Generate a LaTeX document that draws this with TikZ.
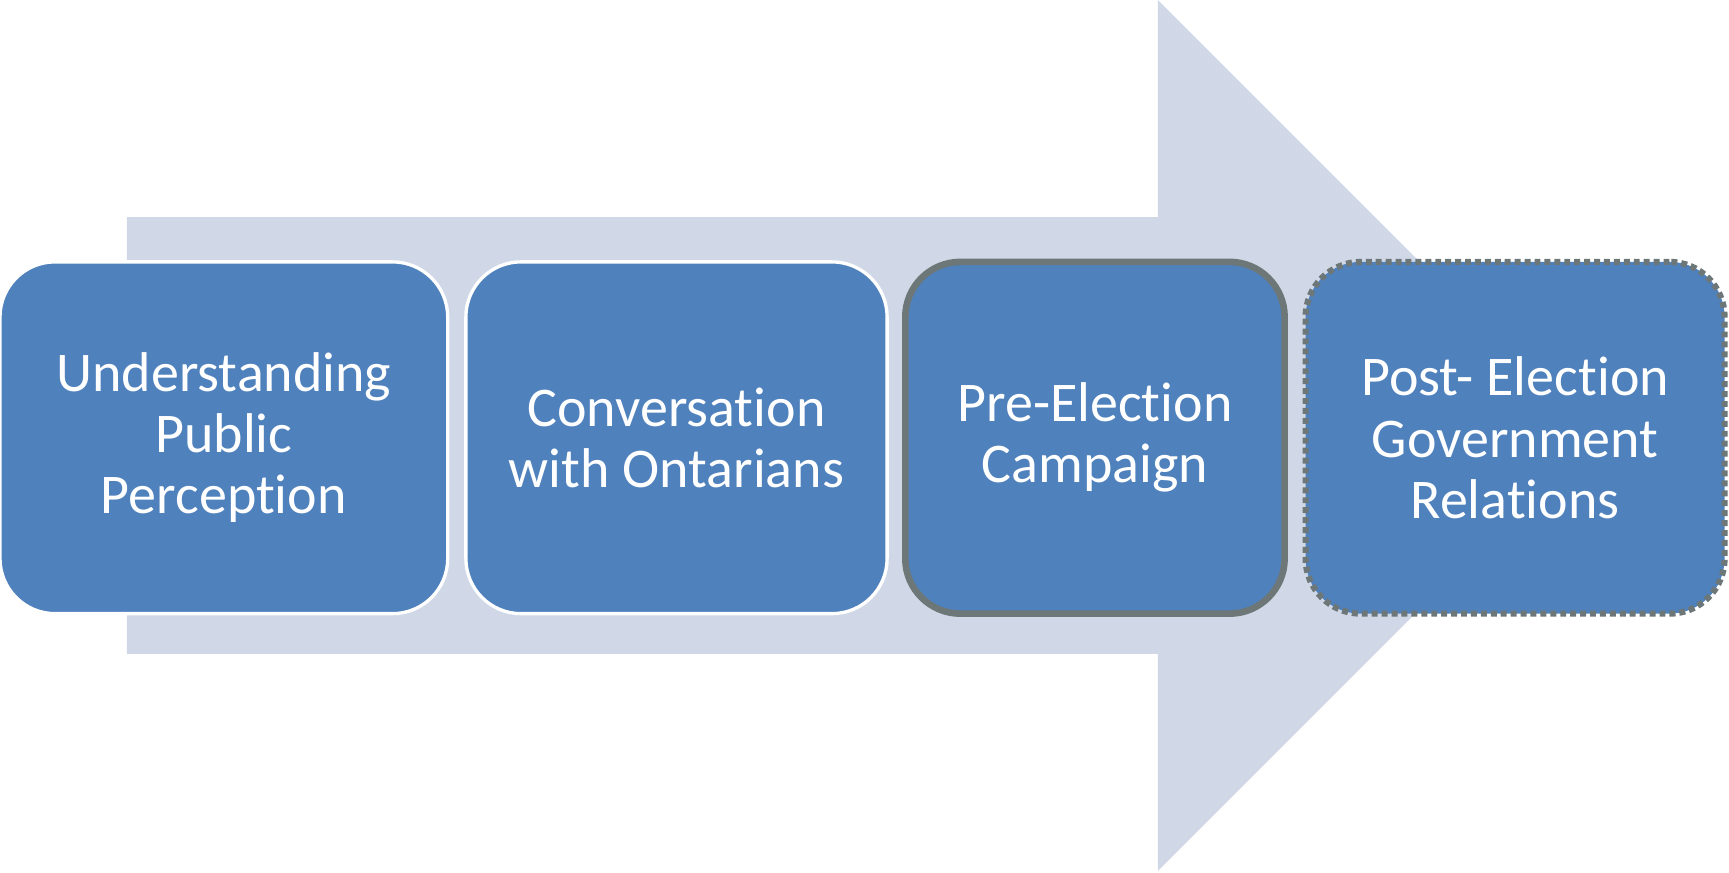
\documentclass[tikz,border=0pt]{standalone}
\usepackage{fontspec}
\setmainfont{Carlito}[RawFeature={-liga;-clig;-dlig}]
\definecolor{stepblue}{HTML}{4F81BD}
\definecolor{arrowbg}{HTML}{D0D8E8}
\definecolor{rimgray}{HTML}{6D7777}
\tikzset{
  phase/.style={fill=stepblue, rounded corners=25pt, minimum height=159.5pt,
    align=center, text=white, inner sep=0pt,
    font=\fontsize{25.4pt}{27.7pt}\selectfont},
  whiterim/.style={draw=white, line width=1.5pt},
  grayrim/.style={draw=rimgray, line width=3pt},
  dotrim/.style={draw=rimgray, line width=2.8pt, dash pattern=on 2.7pt off 1.8pt}
}
\begin{document}
\begin{tikzpicture}[x=0.5pt,y=-0.5pt]
\useasboundingbox (0,0) rectangle (1568,791);
\fill [arrowbg] (115,197) -- (1050,197) -- (1050,0) -- (1445,395)
    -- (1050,790) -- (1050,593) -- (115,593) -- cycle;
\node [phase, whiterim, minimum width=203pt] (p1) at (203,397)
    {Understanding\\Public\\Perception};
\node [phase, whiterim, minimum width=191pt] (p2) at (613.5,397)
    {Conversation\\with Ontarians};
\node [phase, grayrim, minimum width=172pt] (p3) at (993,397)
    {Pre-Election\\Campaign};
\node [phase, dotrim, minimum width=190pt] (p4) at (1374,397)
    {Post- Election\\Government\\Relations};
\end{tikzpicture}
\end{document}
